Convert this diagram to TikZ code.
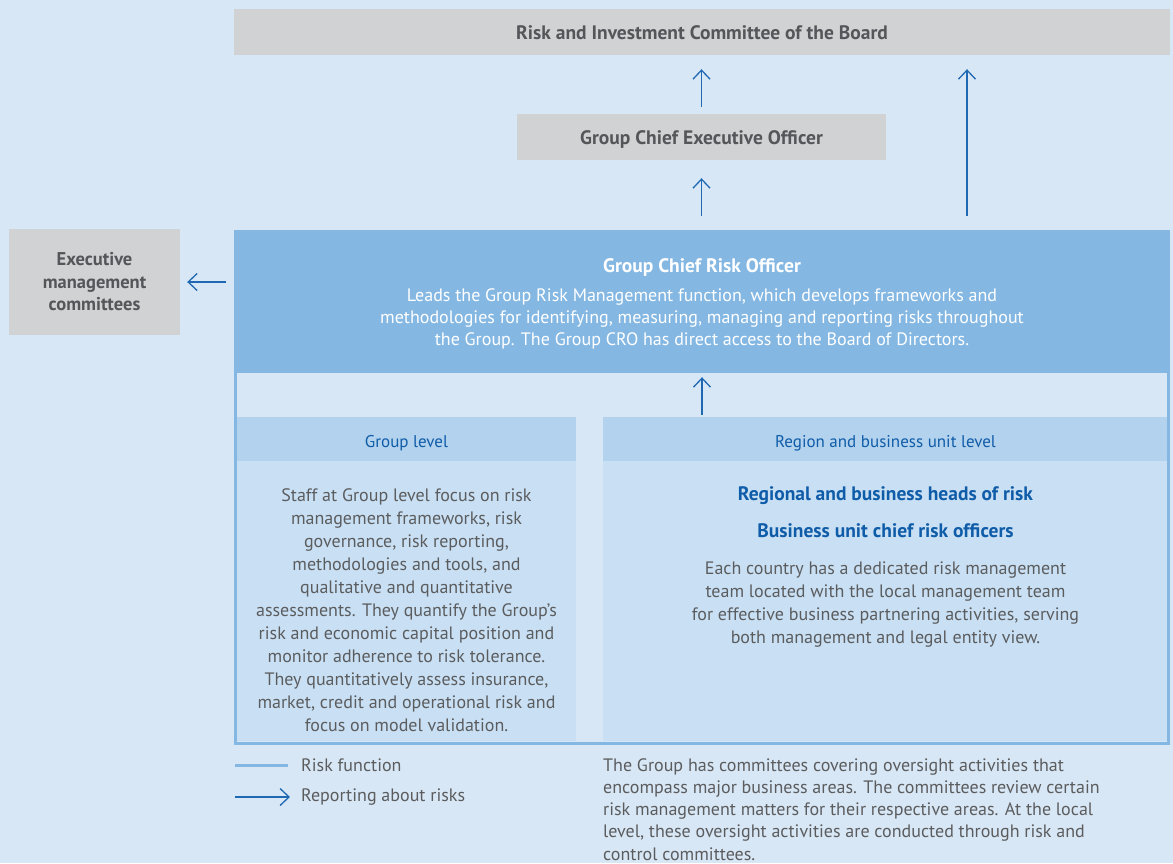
\documentclass[tikz,border=0pt]{standalone}
\usepackage{fontspec}
\setmainfont{PT Sans}
\usetikzlibrary{arrows.meta}
\definecolor{bg}{HTML}{D8E7F5}
\definecolor{boxgray}{HTML}{D1D2D4}
\definecolor{txtgray}{HTML}{5B5C5E}
\definecolor{darkgray}{HTML}{55565A}
\definecolor{croblue}{HTML}{84B8E3}
\definecolor{headblue}{HTML}{B3D2ED}
\definecolor{bodyblue}{HTML}{C9E0F4}
\definecolor{arrowblue}{HTML}{1F68B2}
\definecolor{textblue}{HTML}{0F5CA8}
\newcommand{\bigbold}{\fontsize{19.5}{22}\selectfont\bfseries}
\newcommand{\hdr}[1]{\raisebox{-8pt}[0pt][0pt]{#1}}
\newcommand{\ttl}[1]{\raisebox{-7.5pt}[0pt][0pt]{#1}}
\tikzset{
  graybox/.style={rectangle, fill=boxgray, inner sep=0pt, font=\bigbold, text=darkgray, align=center},
  headbox/.style={rectangle, fill=headblue, inner sep=0pt, minimum height=44pt, font=\fontsize{17}{22}\selectfont, text=textblue},
  bodybox/.style={rectangle, fill=bodyblue, inner sep=0pt, minimum height=280pt},
  bodytext/.style={inner sep=0pt, font=\fontsize{18}{23}\selectfont, text=txtgray, align=center},
  report/.style={draw=arrowblue, line width=1.3pt, -{Straight Barb[length=9pt,width=17pt]}},
  riskline/.style={draw=croblue, line width=3pt},
}
\begin{document}
\begin{tikzpicture}[x=1pt,y=-1pt]
\fill[bg] (0,0) rectangle (1173,863);
\useasboundingbox (0,0) rectangle (1173,863);

% top boxes
\node[graybox, minimum width=936pt, minimum height=46pt] (ric) at (702,32) {\ttl{Risk and Investment Committee of the Board}};
\node[graybox, minimum width=369pt, minimum height=46pt] (ceo) at (701.5,137) {\ttl{Group Chief Executive Officer}};
\node[graybox, minimum width=171pt, minimum height=106pt, font=\fontsize{18.5}{22.5}\selectfont\bfseries] (exec) at (94.5,282) {Executive\\management\\committees};

% CRO
\node[rectangle, fill=croblue, inner sep=0pt, minimum width=936pt, minimum height=143pt, text=white, align=center,
      font=\fontsize{18}{22}\selectfont] (cro) at (702,301.5)
  {{\bigbold\rule{0pt}{19pt}Group Chief Risk Officer}\\[7pt]
   Leads the Group Risk Management function, which develops frameworks and\\
   methodologies for identifying, measuring, managing and reporting risks throughout\\
   the Group. The Group CRO has direct access to the Board of Directors.};

% columns
\node[headbox, minimum width=339pt] (gh) at (406.5,439) {\hdr{Group level}};
\node[bodybox, minimum width=339pt] (gb) at (406.5,601) {};
\node[headbox, minimum width=565pt] (rh) at (885.5,439) {\hdr{Region and business unit level}};
\node[bodybox, minimum width=565pt] (rb) at (885.5,601) {};

% risk function frame
\draw[riskline] (cro.south west) ++(1.5,0) |- (743,743.5) -| ([xshift=-1.5pt]cro.south east);

\node[bodytext] (gt) at (406.5,610)
  {Staff at Group level focus on risk\\
   management frameworks, risk\\
   governance, risk reporting,\\
   methodologies and tools, and\\
   qualitative and quantitative\\
   assessments. They quantify the Group’s\\
   risk and economic capital position and\\
   monitor adherence to risk tolerance.\\
   They quantitatively assess insurance,\\
   market, credit and operational risk and\\
   focus on model validation.};

\node[bodytext] (rt) at (885.5,567)
  {{\bigbold\color{textblue}Regional and business heads of risk}\\[14pt]
   {\bigbold\color{textblue}Business unit chief risk officers}\\[14pt]
   Each country has a dedicated risk management\\
   team located with the local management team\\
   for effective business partnering activities, serving\\
   both management and legal entity view.};

% reporting arrows
\coordinate (lx) at (967,0);
\draw[report, shorten <=7pt, shorten >=14pt] (ceo.north) -- (ceo.north |- ric.south);
\draw[report, shorten <=14pt, shorten >=18pt] (cro.north -| ceo.south) -- (ceo.south);
\draw[report, shorten <=14pt, shorten >=14pt] (cro.north -| lx) -- (ric.south -| lx);
\draw[report, shorten <=8pt, shorten >=7pt] (cro.west |- exec.east) -- (exec.east);
\draw[report, shorten <=2pt, shorten >=4pt] (cro.south |- rh.north) -- (cro.south);

% legend
\coordinate (l1a) at (235,765);
\coordinate (l1b) at (288,765);
\coordinate (l2a) at (235,797);
\coordinate (l2b) at (290,797);
\draw[riskline] (l1a) -- (l1b);
\draw[report] (l2a) -- (l2b);
\node[bodytext, anchor=west] (lt1) at (301,765) {Risk function};
\node[bodytext, anchor=west] (lt2) at (301,797) {Reporting about risks};

% note
\node[bodytext, anchor=north west, align=left, font=\fontsize{18}{22.3}\selectfont] (note) at (603,758)
  {The Group has committees covering oversight activities that\\
   encompass major business areas. The committees review certain\\
   risk management matters for their respective areas. At the local\\
   level, these oversight activities are conducted through risk and\\
   control committees.};
\end{tikzpicture}
\end{document}
